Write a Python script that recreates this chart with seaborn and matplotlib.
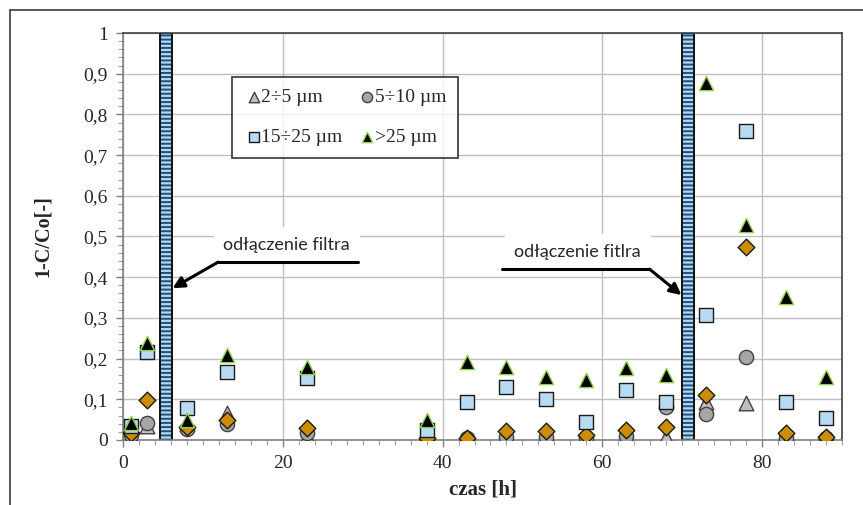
import numpy as np
import pandas as pd
import matplotlib
matplotlib.use("Agg")
import matplotlib.pyplot as plt
import seaborn as sns
from matplotlib.lines import Line2D
from matplotlib.ticker import MultipleLocator, FuncFormatter

sns.set_theme(style="white")
plt.rcParams['font.family'] = ['Liberation Serif', 'DejaVu Serif']
plt.rcParams['hatch.linewidth'] = 1.4

# czas pomiaru [h]
czas = [1, 3, 8, 13, 23, 38, 43, 48, 53, 58, 63, 68, 73, 78, 83, 88]

# 1-C/Co dla frakcji
f_2_5 = [0.010, 0.035, 0.040, 0.066, 0.010, 0.002, 0.005, 0.002, 0.002, 0.003, 0.002, 0.008, 0.094, 0.092, 0.003, 0.001]
f_5_10 = [0.012, 0.041, 0.027, 0.039, 0.017, 0.003, 0.005, 0.008, 0.008, 0.004, 0.011, 0.082, 0.063, 0.203, 0.005, 0.004]
f_10_15 = [0.018, 0.098, 0.033, 0.049, 0.030, 0.005, 0.006, 0.023, 0.021, 0.012, 0.025, 0.033, 0.110, 0.474, 0.018, 0.008]
f_15_25 = [0.035, 0.216, 0.079, 0.167, 0.152, 0.025, 0.093, 0.130, 0.100, 0.043, 0.123, 0.094, 0.307, 0.759, 0.094, 0.055]
f_25 = [0.042, 0.238, 0.049, 0.209, 0.180, 0.049, 0.192, 0.180, 0.155, 0.147, 0.177, 0.160, 0.876, 0.528, 0.352, 0.156]

labels = ['2÷5 µm', '5÷10 µm', '10÷15 µm', '15÷25 µm', '>25 µm']
series = [f_2_5, f_5_10, f_10_15, f_15_25, f_25]

# momenty odłączenia filtra [h]
odlaczenie = [5.4, 70.7]
opisy = ['odłączenie filtra', 'odłączenie fitlra']

styles = [
    dict(marker='^', color='#BFBFBF', edgecolor='#404040', s=110),
    dict(marker='o', color='#A6A6A6', edgecolor='#404040', s=105),
    dict(marker='D', color='#CC8E00', edgecolor='#1A1A1A', s=72),
    dict(marker='s', color='#B8DAF2', edgecolor='#1A1A1A', s=110),
    dict(marker='^', color='#000000', edgecolor='#92D050', s=105),
]

fig = plt.figure(figsize=(8.63, 5.05), dpi=100)
ax = fig.add_axes([123 / 863, 1 - 440 / 505, 719 / 863, 407 / 505])

# ramka wykresu (lewa i górna krawędź)
x0, y0 = 10 / 863, 1 - 10 / 505
fig.add_artist(Line2D([x0, x0], [0, y0], transform=fig.transFigure, color='#3A3A3A', lw=1.2))
fig.add_artist(Line2D([x0, 1], [y0, y0], transform=fig.transFigure, color='#3A3A3A', lw=1.2))

ax.set_xlim(0, 90)
ax.set_ylim(0, 1)
ax.xaxis.set_major_locator(MultipleLocator(20))
ax.xaxis.set_minor_locator(MultipleLocator(2))
ax.yaxis.set_major_locator(MultipleLocator(0.1))
ax.yaxis.set_minor_locator(MultipleLocator(0.02))
ax.yaxis.set_major_formatter(FuncFormatter(
    lambda v, p: '0' if abs(v) < 1e-9 else f'{v:.1f}'.rstrip('0').rstrip('.').replace('.', ',')))
ax.grid(True, which='major', color='#BFBFBF', lw=1.0, zorder=0)
ax.set_axisbelow(True)
ax.tick_params(which='major', direction='out', length=5, width=1, color='#808080',
               labelsize=14, pad=6, left=True, bottom=True)
ax.tick_params(which='minor', direction='out', length=3.5, width=0.8, color='#A0A0A0',
               left=True, bottom=True)
for side, sp in ax.spines.items():
    sp.set_color('#404040' if side in ('top', 'right') else '#808080')
    sp.set_linewidth(1.2)

# słupki odłączenia filtra
for t in odlaczenie:
    ax.axvspan(t - 0.75, t + 0.75, facecolor='#B4D8F2', edgecolor='#1F4E7A', hatch='----',
               lw=0, zorder=2)
    ax.axvspan(t - 0.75, t + 0.75, fill=False, edgecolor='#111111', lw=1.4, zorder=2.1)

for vals, lab, st in zip(series, labels, styles):
    sns.scatterplot(x=czas, y=vals, ax=ax, label=lab, marker=st['marker'], color=st['color'],
                    edgecolor=st['edgecolor'], s=st['s'], linewidth=1.0, zorder=3)

# opisy ze strzałkami
txt_font = ['Lato', 'DejaVu Sans']
ax.text(20.5, 0.479, opisy[0], ha='center', va='center', fontsize=13, family=txt_font,
        bbox=dict(facecolor='white', edgecolor='none', pad=7), zorder=4)
ax.plot([11.9, 29.4], [0.437, 0.437], color='black', lw=2.2, zorder=4)
ax.annotate('', xy=(6.2, 0.373), xytext=(11.9, 0.437),
            arrowprops=dict(arrowstyle='-|>', color='black', lw=2.2, mutation_scale=17,
                            shrinkA=0, shrinkB=0), zorder=4)

ax.text(56.9, 0.462, opisy[1], ha='center', va='center', fontsize=13, family=txt_font,
        bbox=dict(facecolor='white', edgecolor='none', pad=7), zorder=4)
ax.plot([47.5, 65.9], [0.420, 0.420], color='black', lw=2.2, zorder=4)
ax.annotate('', xy=(69.9, 0.356), xytext=(65.9, 0.420),
            arrowprops=dict(arrowstyle='-|>', color='black', lw=2.2, mutation_scale=17,
                            shrinkA=0, shrinkB=0), zorder=4)

ax.set_xlabel('czas [h]', fontsize=15, fontweight='bold', labelpad=5)
ax.set_ylabel('1-C/Co[-]', fontsize=14.5, fontweight='bold', labelpad=22)

# legenda: 2 kolumny, wpisy jak w oryginale
h, l = ax.get_legend_handles_labels()
order = [0, 3, 1, 4]
leg = ax.legend([h[i] for i in order], [l[i] for i in order], ncol=2, loc='upper left',
                bbox_to_anchor=(0.152, 0.892, 0.314, 0.0), mode='expand',
                fontsize=14, frameon=True, fancybox=False,
                edgecolor='black', borderpad=0.6, handletextpad=-0.1, columnspacing=1.0,
                labelspacing=1.15, markerscale=0.72, handlelength=1.0, borderaxespad=0)
leg.get_frame().set_linewidth(1.2)
leg.set_zorder(5)

fig.savefig('out.png', dpi=100)
